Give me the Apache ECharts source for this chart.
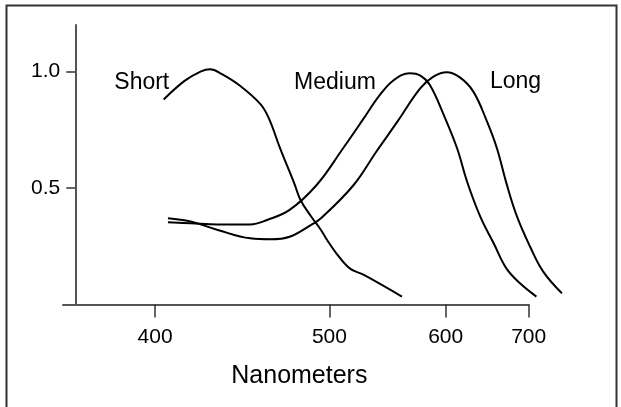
<!DOCTYPE html>
<html>
<head>
<meta charset="utf-8">
<script src="https://cdn.jsdelivr.net/npm/echarts@6/dist/echarts.min.js"></script>
<style>
html, body { margin: 0; padding: 0; background: #fff; }
#cone-charts { width: 621px; height: 407px; }
</style>
</head>
<body>
<div id="cone-charts"></div>
<script>
// wavelengths (nm) and relative sensitivity
var shortNm  = [404, 414, 422, 427, 433, 443, 455, 460, 467, 476, 480, 487, 494, 498, 505, 515, 526, 558];
var shortVal = [0.88, 0.96, 1.0, 1.01, 0.99, 0.94, 0.86, 0.80, 0.67, 0.52, 0.45, 0.38, 0.32, 0.28, 0.22, 0.155, 0.127, 0.034];

var mediumNm  = [406, 417, 431, 449, 459, 473, 491, 510, 526, 539, 551, 565, 575, 584, 598, 612, 623, 638, 654, 670, 688, 711];
var mediumVal = [0.353, 0.349, 0.344, 0.344, 0.363, 0.406, 0.513, 0.671, 0.800, 0.900, 0.964, 0.993, 0.983, 0.943, 0.814, 0.671, 0.527, 0.377, 0.263, 0.155, 0.091, 0.034];

var longNm  = [406, 417, 431, 449, 461, 473, 487, 494, 518, 536, 554, 575, 588, 601, 615, 630, 646, 658, 670, 684, 702, 721, 750];
var longVal = [0.370, 0.356, 0.320, 0.284, 0.280, 0.291, 0.341, 0.370, 0.513, 0.656, 0.785, 0.929, 0.979, 0.997, 0.975, 0.914, 0.785, 0.671, 0.521, 0.377, 0.248, 0.141, 0.048];

// axis ticks
var xTicksNm = [400, 500, 600, 700];
var yTicks = [0.5, 1.0];

// curve names and where their names sit (nm, value)
var curveNames = ['Short', 'Medium', 'Long'];
var labelNm  = [394, 504, 682];
var labelVal = [0.953, 0.953, 0.955];

// the x axis of the figure runs in wavenumber, so plot 1e7 / nm
function wn(nm) {
	return 1e7 / nm;
}

function toPoints(nm, val) {
	var out = [];
	for (var i = 0; i < nm.length; i++) {
		out.push([wn(nm[i]), val[i]]);
	}
	return out;
}

var font = '"Liberation Sans", Arial, Helvetica, sans-serif';
var curves = [[shortNm, shortVal], [mediumNm, mediumVal], [longNm, longVal]];

// the drawn axis stops at 700 nm but the curves run past it,
// so the curves sit on a wider hidden axis with the same scale
var gridLeft = 63, axisEnd = 528.7, plotEnd = 575;
var wnLeft = wn(361.8), wnAxisEnd = wn(700);
var pxPerWn = (axisEnd - gridLeft) / (wnLeft - wnAxisEnd);
var wnPlotEnd = wnLeft - (plotEnd - gridLeft) / pxPerWn;

var series = [];
for (var i = 0; i < curves.length; i++) {
	series.push({
		name: curveNames[i],
		type: 'line',
		xAxisIndex: 0,
		yAxisIndex: 0,
		data: toPoints(curves[i][0], curves[i][1]),
		symbol: 'none',
		smooth: 0.4,
		lineStyle: { color: '#000', width: 2 },
		markPoint: {
			symbol: 'circle',
			symbolSize: 0,
			label: {
				show: true,
				position: 'inside',
				formatter: '{b}',
				color: '#000',
				fontFamily: font,
				fontSize: 23
			},
			data: [{ name: curveNames[i], coord: [wn(labelNm[i]), labelVal[i]] }]
		}
	});
}

var option_cone = {
	animation: false,
	backgroundColor: '#fff',
	grid: [
		{ left: gridLeft, right: 621 - plotEnd, top: 25, bottom: 102.5 },
		{ left: gridLeft, right: 621 - axisEnd, top: 25, bottom: 102.5 }
	],
	graphic: [{
		type: 'rect',
		shape: { x: 6.5, y: 5.5, width: 610, height: 420 },
		style: { fill: 'none', stroke: '#333', lineWidth: 2 }
	}],
	xAxis: [{
		// hidden axis the curves are drawn on
		gridIndex: 0,
		type: 'value',
		inverse: true,
		min: wnPlotEnd,
		max: wnLeft,
		show: false
	}, {
		gridIndex: 1,
		type: 'value',
		inverse: true,
		min: wnAxisEnd,
		max: wnLeft,
		name: 'Nanometers',
		nameLocation: 'middle',
		nameGap: 59,
		nameTextStyle: { color: '#000', fontFamily: font, fontSize: 25, padding: [0, 0, 0, 7] },
		axisLine: { lineStyle: { color: '#555', width: 2 } },
		axisTick: {
			length: 13,
			customValues: xTicksNm.map(wn),
			lineStyle: { color: '#333', width: 1.5 }
		},
		axisLabel: {
			customValues: xTicksNm.map(wn),
			formatter: function (v) { return Math.round(1e7 / v); },
			margin: 22,
			color: '#000',
			fontFamily: font,
			fontSize: 21
		},
		splitLine: { show: false }
	}],
	yAxis: [{
		gridIndex: 0,
		type: 'value',
		min: 0,
		max: 1.2,
		offset: -12.3,
		axisLine: { show: true, lineStyle: { color: '#555', width: 2 } },
		axisTick: {
			show: true,
			length: 9,
			customValues: yTicks,
			lineStyle: { color: '#333', width: 1.5 }
		},
		axisLabel: {
			customValues: yTicks,
			formatter: function (v) { return v.toFixed(1); },
			margin: 15,
			color: '#000',
			fontFamily: font,
			fontSize: 21
		},
		splitLine: { show: false }
	}, {
		gridIndex: 1,
		type: 'value',
		min: 0,
		max: 1.2,
		show: false
	}],
	series: series
};

var coneCharts = echarts.init(document.getElementById('cone-charts'), null, { renderer: 'canvas' });
coneCharts.setOption(option_cone);
</script>
</body>
</html>
